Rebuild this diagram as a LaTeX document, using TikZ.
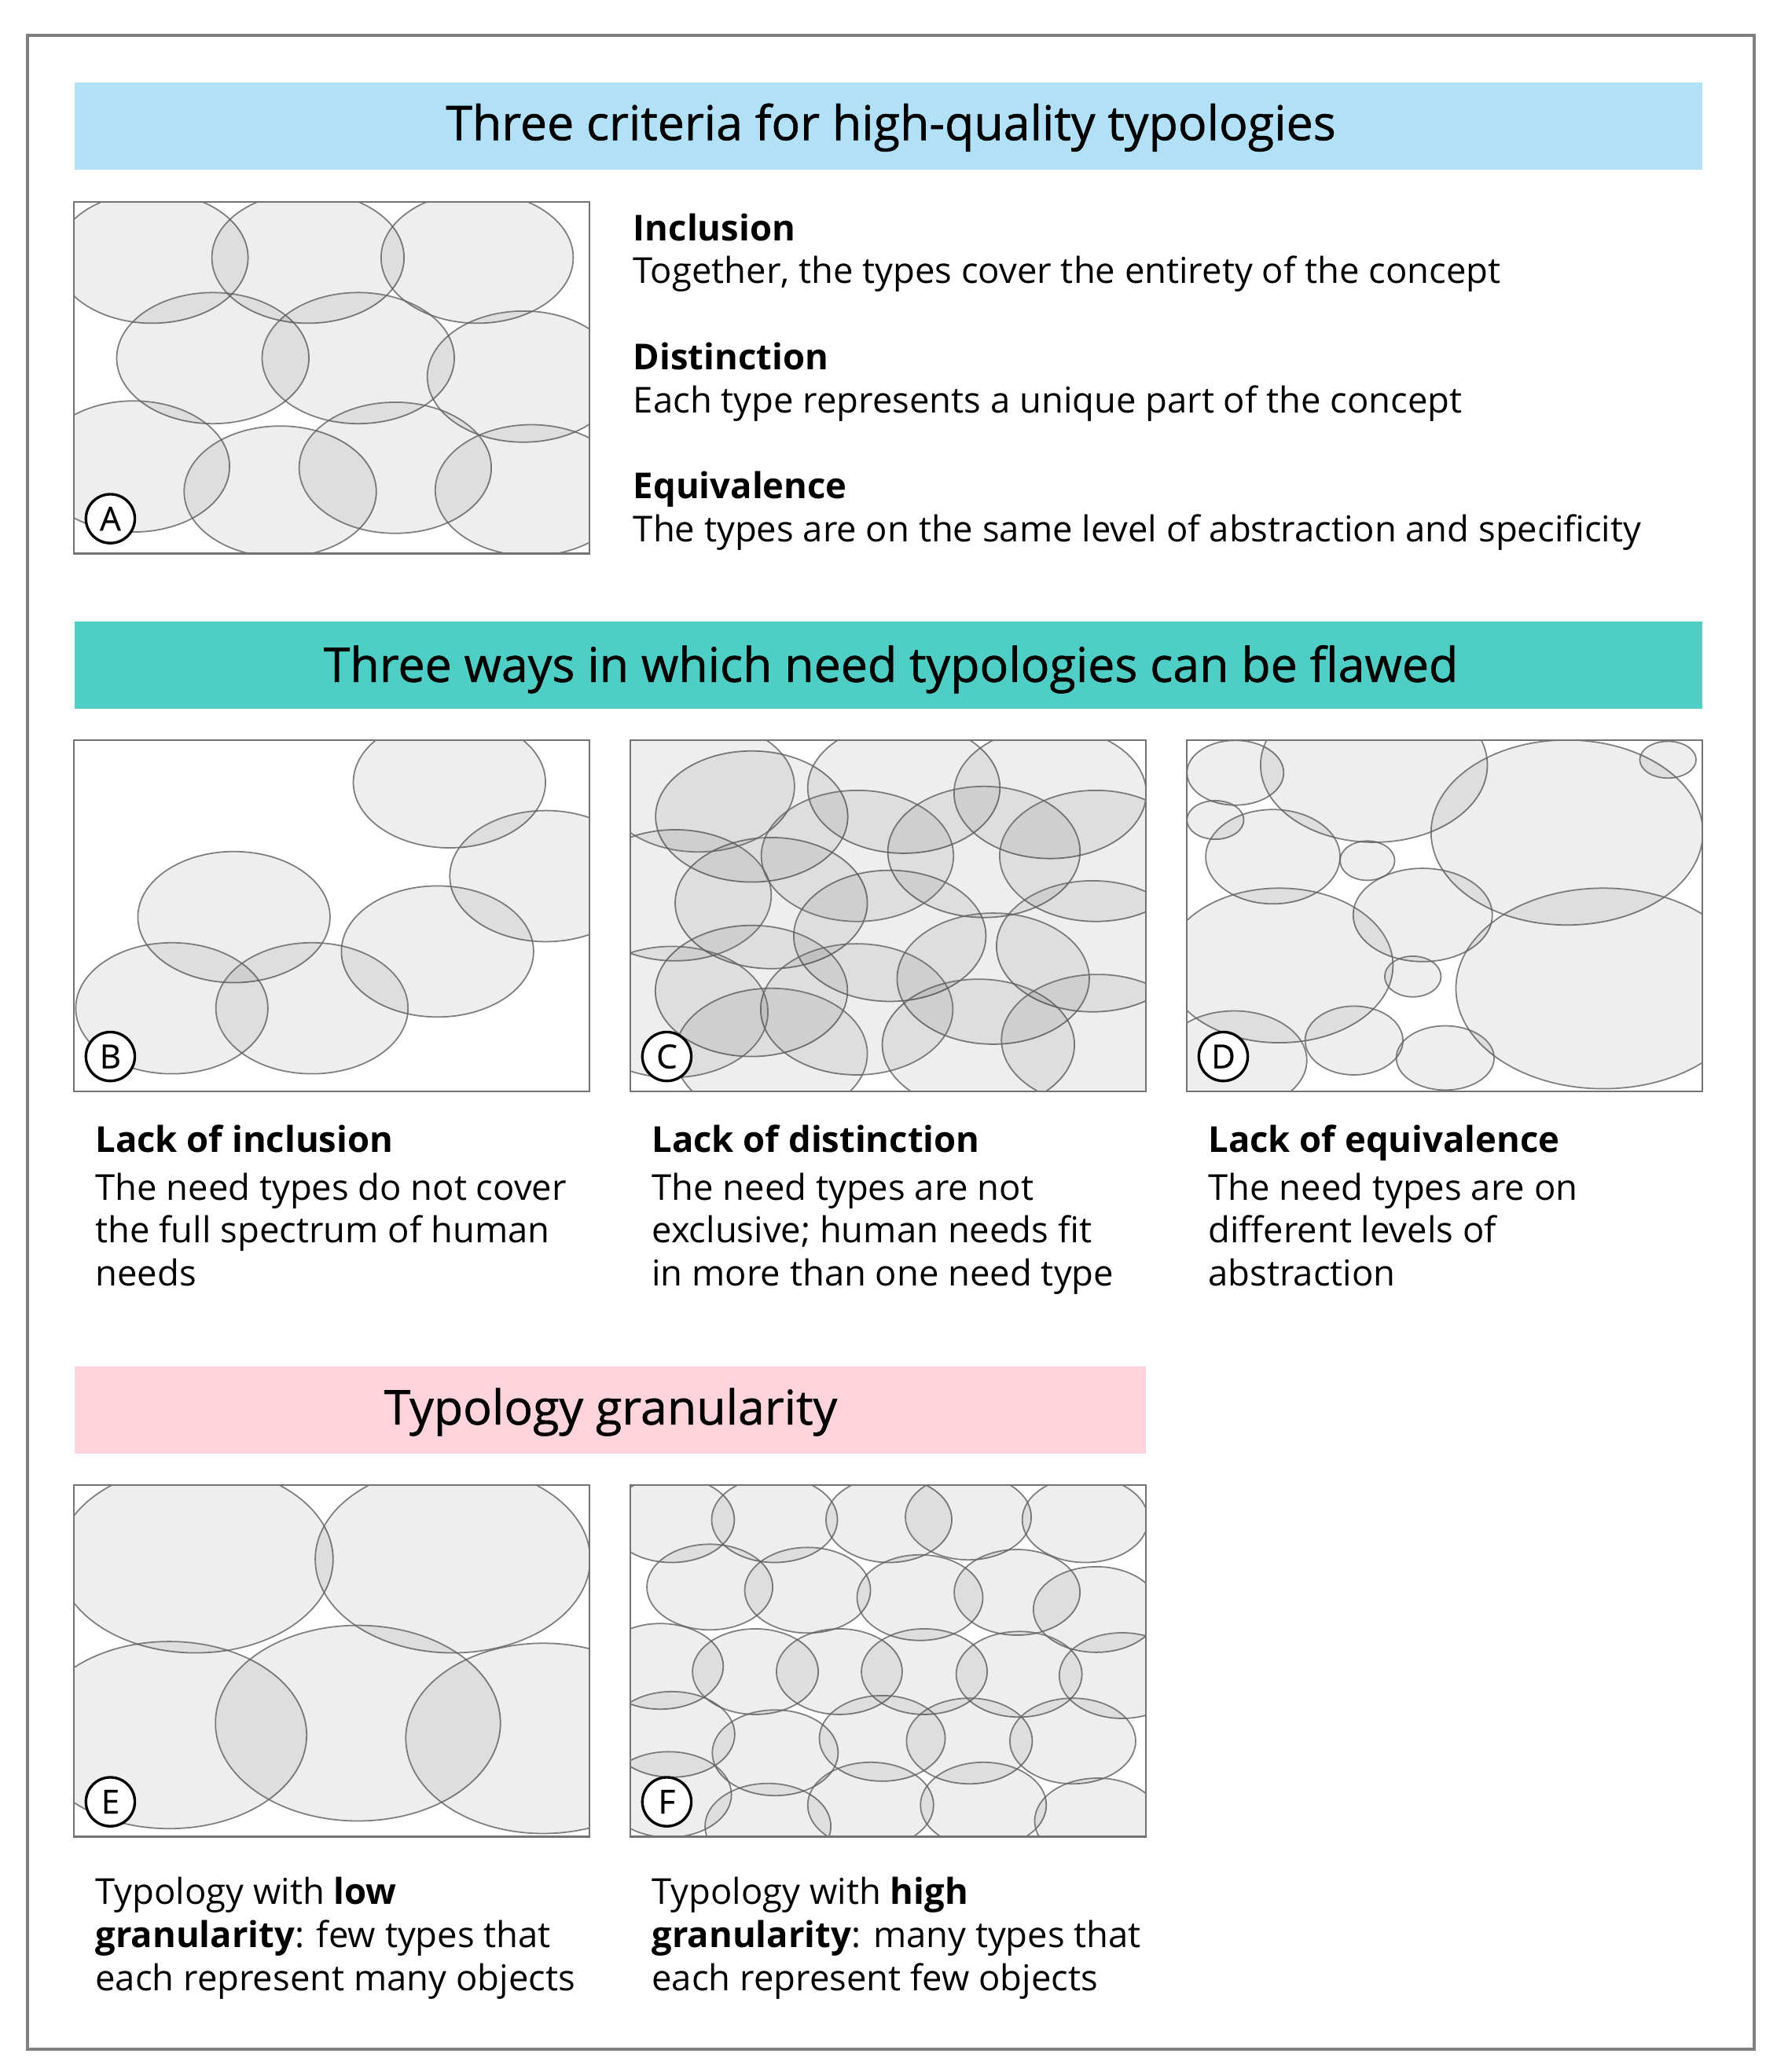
\documentclass[tikz,border=0pt]{standalone}
\usepackage{fontspec}
\setmainfont{Open Sans}
\IfFontExistsTF{Open Sans SemiBold}{\newfontfamily\ttlfont{Open Sans SemiBold}}{\newfontfamily\ttlfont{Open Sans}[FakeBold=0.9]}
\newfontfamily\lblfont{Open Sans}[FakeBold=0.5]
\definecolor{hblue}{RGB}{178,224,246}
\definecolor{hteal}{RGB}{78,206,196}
\definecolor{hpink}{RGB}{253,212,220}
\definecolor{framegray}{RGB}{128,128,128}
\tikzset{
  ell/.style={fill=black, fill opacity=0.066, draw=black!62, draw opacity=0.8, line width=1.05pt},
  pframe/.style={draw=black!55, line width=1.4pt},
  lbl/.style={circle, draw=black, line width=2pt, fill=white, minimum size=37pt, inner sep=0pt, font=\fontsize{25}{25}\selectfont\lblfont},
  hdrbox/.style={anchor=north west, inner sep=0pt, minimum height=66pt},
  ttl/.style={anchor=base, inner sep=0pt, font=\fontsize{36.2}{40}\selectfont\ttlfont},
  body/.style={anchor=base west, inner sep=0pt, font=\fontsize{27}{32}\selectfont},
  bodyb/.style={anchor=base west, inner sep=0pt, font=\fontsize{27}{32}\selectfont\bfseries},
}
\newcommand\mypanel[5]{%
  \begin{scope}[shift={(#2,#3)}]
    \begin{scope}
      \clip (0,0) rectangle (390,266);
      \foreach \a/\b/\c/\d in {#5} {\draw[ell] (\a,\b) ellipse [x radius=\c, y radius=\d];}
    \end{scope}
    \draw[pframe] (0,0) rectangle (390,266);
    \node[lbl] (lab#1) at (27.5,239.5) {#4};
  \end{scope}}
\begin{document}
\begin{tikzpicture}[x=1pt,y=-1pt]
\useasboundingbox[fill=white] (0,0) rectangle (1344,1568);
\draw[framegray, line width=2.4pt] (21,27) rectangle (1327,1551);

% headers
\node[hdrbox, fill=hblue, minimum width=1232pt] (h1) at (56,62) {};
\node[ttl] (h1t) at (674,106) {Three criteria for high-quality typologies};
\node[hdrbox, fill=hteal, minimum width=1232pt] (h2) at (56,470) {};
\node[ttl] (h2t) at (674,516) {Three ways in which need typologies can be flawed};
\node[hdrbox, fill=hpink, minimum width=811pt] (h3) at (56,1034) {};
\node[ttl] (h3t) at (462,1078) {Typology granularity};

% panel A
\mypanel{A}{56}{153}{A}{59/42/72.7/49.6, 177/42/72.7/49.6, 305/42/72.7/49.6,
  105/118/72.7/49.6, 215/118/72.7/49.6, 340/132/72.7/49.6,
  45/200/72.7/49.6, 156/219/72.7/49.6, 243/201/72.7/49.6, 346/218/72.7/49.6}

\node[bodyb] (inc) at (479,182) {Inclusion};
\node[body] (incd) at (479,214.5) {Together, the types cover the entirety of the concept};
\node[bodyb] (dis) at (479,280) {Distinction};
\node[body] (disd) at (479,312.5) {Each type represents a unique part of the concept};
\node[bodyb] (equ) at (479,377.5) {Equivalence};
\node[body] (equd) at (479,410) {The types are on the same level of abstraction and specificity};

% panel B
\mypanel{B}{56}{560}{B}{284/32/72.7/49.6, 357/103/72.7/49.6, 121/134/72.7/49.6,
  275/160/72.7/49.6, 74/203/72.7/49.6, 180/203/72.7/49.6}

% panel C
\mypanel{C}{477}{560}{C}{91.7/57.9/72.7/49.6, 206.8/36.1/72.7/49.6, 317.5/40.1/72.7/49.6,
  267.4/84.7/72.7/49.6, 106.5/123.4/72.7/49.6, 196.2/148.2/72.7/49.6,
  352/87.7/72.7/49.6, 349.6/156.1/72.7/49.6, 91.5/189.9/72.7/49.6,
  274.4/180.6/72.7/49.6, 263.2/230.6/72.7/49.6, 171.2/203.8/72.7/49.6,
  106.5/237.5/72.7/49.6, 353.4/227/72.7/49.6, 33.8/117.5/72.7/49.6,
  31.3/205.8/72.7/49.6, 51.4/35.1/72.7/49.6, 171.7/87.7/72.7/49.6}

% panel D
\mypanel{D}{898}{560}{D}{36.6/24.8/36.6/24.5, 141.5/19/85.8/58.4, 21.5/60.5/21.5/14.6,
  65/88.3/50.8/35.7, 136.5/91.3/20.7/14.9, 287.5/70/102.8/70, 363.9/14.9/21.3/13.9,
  178.4/132.4/52.6/35.3, 69.9/170.6/86/58.5, 170.9/179/21.3/15.4, 315/188/111.5/75.9,
  35.7/242.4/55/37.4, 126.4/227.4/37/26, 195.4/240.6/37/24.3}

\node[bodyb] (cb1) at (72,872) {Lack of inclusion};
\node[body] (cb2) at (72,908) {The need types do not cover};
\node[body] (cb3) at (72,940.5) {the full spectrum of human};
\node[body] (cb4) at (72,973) {needs};
\node[bodyb] (cc1) at (493,872) {Lack of distinction};
\node[body] (cc2) at (493,908) {The need types are not};
\node[body] (cc3) at (493,940.5) {exclusive; human needs fit};
\node[body] (cc4) at (493,973) {in more than one need type};
\node[bodyb] (cd1) at (914,872) {Lack of equivalence};
\node[body] (cd2) at (914,908) {The need types are on};
\node[body] (cd3) at (914,940.5) {different levels of};
\node[body] (cd4) at (914,973) {abstraction};

% panel E
\mypanel{E}{56}{1124}{E}{92/56/104/70.8, 286.5/56/104/70.8, 72/189/104/70.8,
  214.8/180/107.8/74, 355/191.5/104/72}

% panel F
\mypanel{F}{477}{1124}{F}{31/26/47.6/32.4, 109/26/47.6/32.4, 195.5/26/47.6/32.4, 255.6/24/47.6/32.4, 344/26/47.6/32.4,
  60/77/47.6/32.4, 134/79.4/47.6/32.4, 219/85/47.6/32.4, 292.5/81/47.6/32.4, 352.4/94/47.6/32.4,
  22.6/137/47.6/32.4, 94.5/141/47.6/32.4, 158/141/47.6/32.4, 222.3/141/47.6/32.4, 294/143/47.6/32.4, 372/144/47.6/32.4,
  31.3/188.5/47.6/32.4, 109.5/202.4/47.6/32.4, 190.5/191.5/47.6/32.4, 256.4/193.5/47.6/32.4, 334.6/193.5/47.6/32.4,
  28.8/234/47.6/32.4, 104/258/47.6/32.4, 181.7/242/47.6/32.4, 267/242/47.6/32.4, 353.4/254/47.6/32.4}

\node[body] (ce1) at (72,1441) {Typology with \textbf{low}};
\node[body] (ce2) at (72,1474) {\textbf{granularity}: few types that};
\node[body] (ce3) at (72,1506.5) {each represent many objects};
\node[body] (cf1) at (493,1441) {Typology with \textbf{high}};
\node[body] (cf2) at (493,1474) {\textbf{granularity}: many types that};
\node[body] (cf3) at (493,1506.5) {each represent few objects};
\end{tikzpicture}
\end{document}
